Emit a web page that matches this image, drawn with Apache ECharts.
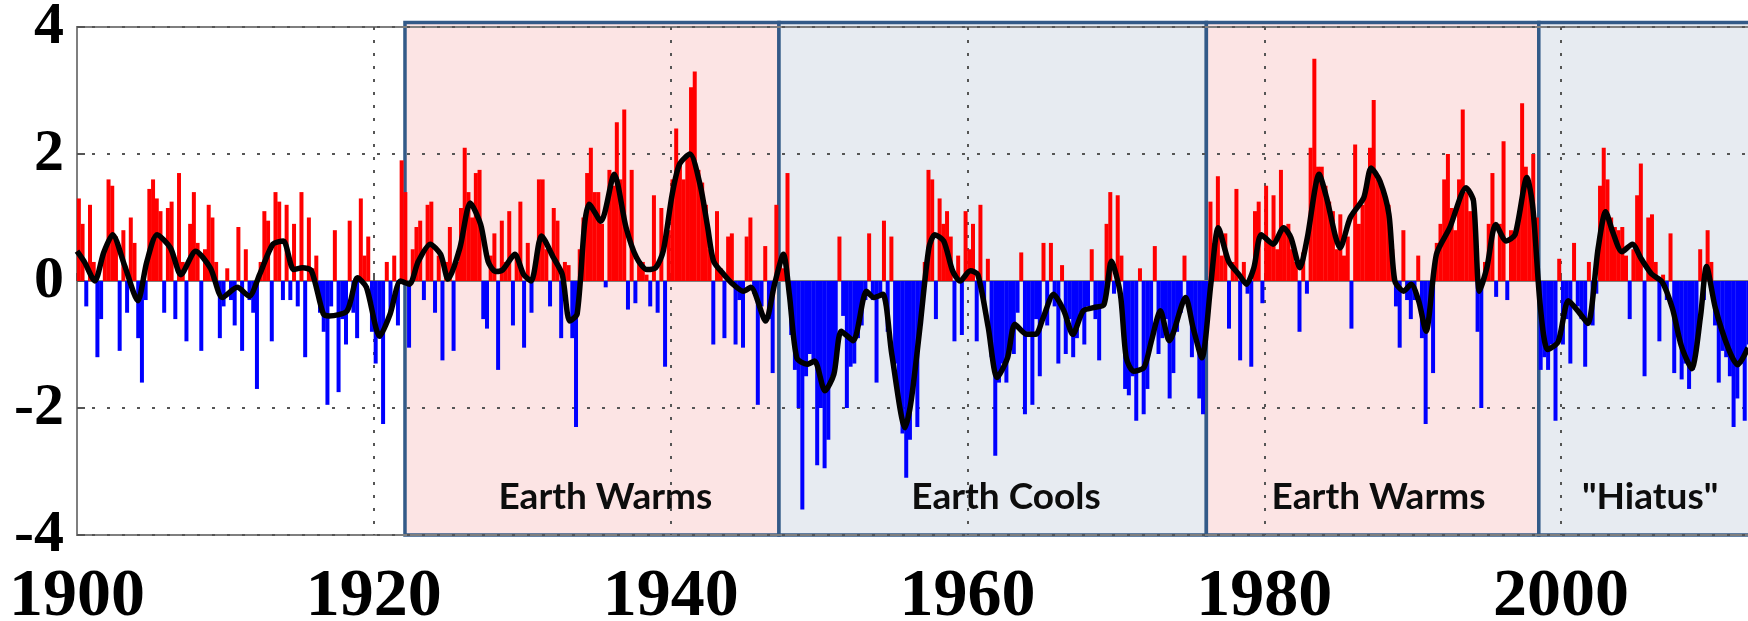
<!DOCTYPE html>
<html lang="en">
<head>
<meta charset="utf-8">
<title>PDO index 1900-2013</title>
<script src="https://cdn.jsdelivr.net/npm/echarts@6/dist/echarts.min.js"></script>
<style>
  html, body { margin: 0; padding: 0; background: #fff; }
  #chart { width: 1748px; height: 621px; }
</style>
</head>
<body>
<div id="chart"></div>
<script>
// quarterly index values, 4 per year, starting 1900
var firstYear = 1900;
var quarterly = [
  1.3, 0.9, -0.4, 1.2,      // 1900
  0.3, -1.2, -0.6, 0.5,
  1.6, 1.5, 0.7, -1.1,
  0.8, -0.5, 1.0, 0.6,
  -0.9, -1.6, -0.3, 1.45,
  1.6, 1.3, 1.1, -0.5,      // 1905
  1.15, 1.25, -0.6, 1.7,
  0.3, -0.95, 0.9, 1.4,
  0.6, -1.1, 0.5, 1.2,
  1.0, 0.3, -0.9, -0.4,
  0.2, -0.3, -0.7, 0.85,    // 1910
  -1.1, 0.5, -0.3, -0.5,
  -1.7, 0.3, 1.1, 0.95,
  -0.95, 1.4, 1.25, -0.3,
  1.2, -0.3, 0.9, -0.4,
  1.4, -1.2, 1.0, 0.2,      // 1915
  0.4, -0.5, -0.8, -1.95,
  -0.4, 0.8, -1.75, -0.6,
  -1.0, 0.95, -0.5, -0.9,
  1.3, 0.4, 0.7, -0.8,
  -1.3, -0.9, -2.25, 0.3,   // 1920
  -0.5, 0.4, -0.7, 1.9,
  1.4, -1.05, 0.5, 0.85,
  0.95, -0.3, 1.2, 1.25,
  -0.5, 0.4, -1.25, 0.3,
  0.85, -1.1, 0.3, 1.15,    // 1925
  2.1, 1.4, 1.0, 1.7,
  1.75, -0.6, -0.75, 0.4,
  0.75, -1.4, 0.95, 0.3,
  1.1, -0.7, 0.4, 1.25,
  -1.05, 0.6, -0.5, 0.3,    // 1930
  1.6, 1.6, 0.5, -0.4,
  1.15, 0.95, -0.9, 0.3,
  0.25, -0.9, -2.3, 0.5,
  1.0, 1.7, 2.1, 1.4,
  1.4, 0.9, -0.1, 1.75,     // 1935
  1.5, 2.5, 1.6, 2.7,
  -0.45, 1.75, -0.35, 0.3,
  0.3, 0.1, -0.4, 1.35,
  -0.5, 1.15, -1.35, 0.8,
  1.6, 2.4, 1.85, 1.6,      // 1940
  2.0, 3.05, 3.3, 1.75,
  1.55, 1.2, 0.5, -1.0,
  1.1, 0.2, -0.9, 0.7,
  0.75, -1.0, -0.3, -1.05,
  0.7, 1.0, -0.2, -1.95,    // 1945
  -0.4, 0.55, -0.6, -1.45,
  1.2, 0.3, 0.2, 1.7,
  -0.85, -1.4, -2.0, -3.6,
  -1.5, -1.15, -1.3, -2.9,
  -2.0, -2.95, -2.5, -1.5,  // 1950
  -1.2, 0.7, -0.55, -2.0,
  -1.35, -1.3, -0.9, -0.7,
  -0.3, 0.75, -0.3, -1.6,
  -0.25, 0.95, -0.8, 0.7,
  -1.3, -1.9, -2.4, -3.1,   // 1955
  -2.5, -1.5, -2.3, -0.7,
  0.3, 1.75, 1.6, -0.6,
  1.3, 0.9, 1.1, 0.7,
  -0.95, 0.4, -0.85, 1.1,
  0.5, 0.9, -0.95, 1.2,     // 1960
  -0.4, 0.35, -1.2, -2.75,
  -1.6, -1.3, -1.6, -1.0,
  -1.15, -0.5, 0.45, -2.1,
  -0.8, -1.95, -0.6, -1.5,
  0.6, -0.7, 0.6, -0.4,     // 1965
  -1.3, 0.25, -1.15, -0.6,
  -1.2, -0.9, -0.5, -1.0,
  -0.4, 0.5, -0.6, -1.25,
  -0.4, 0.9, 1.4, -0.2,
  1.35, 0.4, -1.7, -1.8,    // 1970
  -1.5, -2.2, 0.2, -2.1,
  -1.7, -1.0, 0.55, -1.15,
  -0.9, -0.6, -1.85, -1.45,
  -0.8, -0.5, 0.4, -0.3,
  -1.2, -0.9, -1.85, -2.1,  // 1975
  -0.7, 1.25, 0.6, 1.65,
  0.4, 0.75, -0.75, 0.3,
  1.45, -1.25, 0.3, -0.2,
  -1.35, 1.1, 1.25, -0.35,
  1.5, 0.6, 1.35, 0.5,      // 1980
  1.75, 0.8, 0.9, 0.5,
  0.3, -0.8, 0.45, -0.2,
  2.1, 3.5, 1.8, 1.8,
  1.5, 1.25, 1.1, 0.5,
  1.05, 0.4, 0.7, -0.75,    // 1985
  2.15, 0.9, 1.2, 1.4,
  2.1, 2.85, 1.6, 1.5,
  1.3, 1.2, 0.5, -0.4,
  -1.05, 0.8, -0.3, -0.6,
  -0.3, 0.4, -0.9, -2.25,   // 1990
  -0.5, -1.45, 0.6, 0.9,
  1.6, 2.0, 1.15, 0.8,
  1.6, 2.7, 1.4, 1.1,
  1.3, -0.8, -2.0, 0.3,
  0.9, 1.7, -0.25, 0.9,     // 1995
  2.2, -0.3, 0.8, 0.7,
  0.9, 2.8, 1.8, 1.5,
  2.0, 1.0, -1.4, -1.2,
  -1.4, -1.0, -2.2, 0.35,
  -1.0, -0.6, -1.3, 0.6,    // 2000
  -0.4, -0.6, -1.35, 0.3,
  -0.7, -0.2, 1.5, 2.1,
  1.6, 1.0, 0.85, 0.8,
  0.85, 0.4, -0.6, 0.5,
  1.35, 1.85, -1.5, 1.0,    // 2005
  1.05, 0.3, -0.95, 0.1,
  -0.3, 0.75, -1.45, -0.8,
  -1.55, -1.3, -1.7, -1.4,
  -1.0, 0.5, -0.3, 0.8,
  0.3, -0.7, -1.6, -1.1,    // 2010
  -1.2, -1.5, -2.3, -1.85,
  -1.3, -2.2, -1.0, -1.3
];

// smoothed curve (black line)
var smoothYears = [
  1900.0, 1900.5, 1901.2, 1901.8, 1902.4, 1903.2, 1904.1, 1904.7, 1905.4, 1906.3,
  1907.0, 1908.0, 1909.0, 1909.8, 1910.8, 1911.6, 1912.3, 1913.2, 1913.9, 1914.6,
  1915.2, 1915.8, 1916.6, 1917.0, 1918.2, 1918.9, 1919.5, 1920.4, 1921.1, 1921.8,
  1922.4, 1923.0, 1923.8, 1924.5, 1925.0, 1925.8, 1926.5, 1927.2, 1927.7, 1928.2,
  1928.7, 1929.5, 1930.1, 1930.6, 1931.3, 1932.1, 1932.7, 1933.2, 1933.7, 1934.2,
  1934.5, 1935.3, 1936.2, 1937.0, 1937.7, 1938.4, 1939.0, 1939.5, 1940.1, 1940.6,
  1941.3, 1942.0, 1942.5, 1942.9, 1943.6, 1944.2, 1944.9, 1945.4, 1946.4, 1947.0,
  1947.6, 1948.0, 1948.5, 1949.2, 1949.7, 1950.4, 1951.0, 1951.5, 1952.3, 1953.2,
  1953.7, 1954.3, 1954.9, 1955.8, 1956.2, 1956.8, 1957.4, 1957.8, 1958.4, 1959.0,
  1959.5, 1960.2, 1960.7, 1961.4, 1962.0, 1962.7, 1963.2, 1964.0, 1964.6, 1965.1,
  1965.8, 1966.5, 1967.1, 1967.8, 1968.5, 1969.2, 1969.7, 1970.3, 1970.7, 1971.2,
  1971.9, 1972.4, 1973.0, 1973.6, 1974.7, 1975.2, 1975.8, 1976.4, 1976.9, 1977.6,
  1978.3, 1978.8, 1979.3, 1979.8, 1980.6, 1981.3, 1981.8, 1982.4, 1982.9, 1983.7,
  1984.2, 1984.8, 1985.1, 1985.8, 1986.7, 1987.2, 1987.8, 1988.4, 1988.8, 1989.4,
  1989.9, 1990.4, 1990.9, 1991.6, 1992.5, 1993.6, 1994.1, 1994.5, 1995.0, 1995.6,
  1996.3, 1996.9, 1997.7, 1998.1, 1998.6, 1999.1, 1999.8, 2000.5, 2001.2, 2001.8,
  2002.5, 2003.0, 2003.5, 2004.1, 2004.8, 2005.4, 2006.1, 2006.8, 2007.5, 2008.1,
  2008.8, 2009.4, 2009.8, 2010.4, 2011.3, 2011.9, 2012.6
];
var smoothValues = [
  0.47, 0.3, 0.0, 0.45, 0.73, 0.25, -0.31, 0.3, 0.73, 0.52,
  0.1, 0.47, 0.2, -0.26, -0.1, -0.24, 0.1, 0.58, 0.63, 0.18,
  0.21, 0.16, -0.52, -0.55, -0.47, 0.05, -0.1, -0.87, -0.52, 0.0,
  -0.05, 0.31, 0.58, 0.42, 0.03, 0.52, 1.23, 0.89, 0.31, 0.15,
  0.18, 0.42, 0.1, 0.0, 0.71, 0.37, 0.1, -0.63, -0.52, 0.89,
  1.21, 0.94, 1.68, 0.84, 0.37, 0.18, 0.21, 0.47, 1.36, 1.84,
  2.0, 1.5, 0.84, 0.31, 0.1, -0.05, -0.16, -0.1, -0.63, -0.05,
  0.42, -0.21, -1.21, -1.31, -1.26, -1.73, -1.47, -0.79, -0.94, -0.16,
  -0.26, -0.21, -1.15, -2.31, -1.9, -0.73, 0.52, 0.73, 0.63, 0.16,
  0.0, 0.16, 0.1, -0.73, -1.52, -1.21, -0.68, -0.84, -0.84, -0.58,
  -0.21, -0.47, -0.84, -0.47, -0.42, -0.37, 0.31, -0.2, -1.21, -1.42,
  -1.36, -0.94, -0.47, -0.94, -0.26, -0.73, -1.21, -0.05, 0.84, 0.31,
  0.1, -0.05, 0.21, 0.73, 0.58, 0.84, 0.68, 0.21, 0.68, 1.68,
  1.31, 0.7, 0.52, 1.0, 1.31, 1.78, 1.57, 1.05, 0.0, -0.16,
  -0.05, -0.31, -0.79, 0.42, 0.84, 1.47, 1.26, -0.16, 0.21, 0.89,
  0.63, 0.73, 1.63, 1.15, -0.4, -1.08, -0.96, -0.31, -0.49, -0.67,
  0.52, 1.09, 0.76, 0.46, 0.58, 0.35, 0.11, -0.01, -0.43, -1.02,
  -1.38, -0.55, 0.23, -0.43, -1.08, -1.32, -1.05
];

// shaded periods
var periodStart = [1922.1, 1947.3, 1976.1, 1998.5];
var periodEnd   = [1947.3, 1976.1, 1998.5, 2014.5];
var periodKind  = ['warm', 'cool', 'warm', 'cool'];
var periodName  = ['Earth Warms', 'Earth Cools', 'Earth Warms', '"Hiatus"'];
var periodLabelYear = [1935.6, 1962.6, 1987.7, 2006.0];

var kindFill = { warm: '#fce4e4', cool: '#e7ebf1' };

var barData = quarterly.map(function (v, i) {
  return [firstYear + (i + 0.5) / 4, v];
});
var lineData = smoothYears.map(function (y, i) { return [y, smoothValues[i]]; });
var periodData = periodStart.map(function (s, i) { return [s, periodEnd[i], i]; });

var chart = echarts.init(document.getElementById('chart'));
var serifFont = "'Liberation Serif', 'Times New Roman', serif";

chart.setOption({
  animation: false,
  backgroundColor: '#fff',
  grid: {
    left: 77, top: 27, right: -6, bottom: 86,
    outerBoundsMode: 'none',
    show: true, borderColor: '#7f7f7f', borderWidth: 2
  },
  xAxis: {
    type: 'value', min: 1900, max: 2013, interval: 20,
    axisLine: { show: true, lineStyle: { color: '#7f7f7f', width: 2 } },
    axisTick: { show: true, inside: true, length: 8, lineStyle: { color: '#555', width: 2 } },
    axisLabel: {
      showMaxLabel: false, margin: 28, color: '#000',
      fontFamily: serifFont, fontWeight: 'bold', fontSize: 68,
      formatter: function (v) { return String(v); }
    },
    splitLine: { show: true, lineStyle: { color: '#555', width: 2, type: [3, 10] } }
  },
  yAxis: {
    type: 'value', min: -4, max: 4, interval: 2,
    axisLine: { show: true, lineStyle: { color: '#7f7f7f', width: 2 } },
    axisTick: { show: true, inside: true, length: 8, lineStyle: { color: '#555', width: 2 } },
    axisLabel: {
      margin: 13, color: '#000',
      fontFamily: serifFont, fontWeight: 'bold', fontSize: 60
    },
    splitLine: { show: true, lineStyle: { color: '#555', width: 2, type: [3, 12] } }
  },
  series: [
    {
      type: 'custom',
      z: -1,
      data: periodData,
      encode: { x: [0, 1] },
      renderItem: function (params, api) {
        var i = api.value(2);
        var p0 = api.coord([api.value(0), 4.07]);
        var p1 = api.coord([api.value(1), -4.0]);
        var t = api.coord([periodLabelYear[i], -3.4]);
        return {
          type: 'group',
          children: [
            {
              type: 'rect',
              shape: { x: p0[0], y: p0[1], width: p1[0] - p0[0], height: p1[1] - p0[1] },
              style: { fill: kindFill[periodKind[i]], stroke: '#335a88', lineWidth: 3.5 }
            },
            {
              type: 'text',
              style: {
                text: periodName[i], x: t[0], y: t[1],
                align: 'center', verticalAlign: 'middle',
                fill: '#0d0d0d', font: "bold 37px Lato, 'Open Sans', sans-serif"
              }
            }
          ]
        };
      }
    },
    {
      type: 'bar',
      data: barData,
      barWidth: 4,
      itemStyle: {
        color: function (p) { return p.value[1] >= 0 ? '#ff0000' : '#0000ff'; }
      },
      z: 2
    },
    {
      type: 'line',
      data: lineData,
      showSymbol: false,
      smooth: 0.25,
      lineStyle: { color: '#000', width: 5.5 },
      z: 3
    }
  ]
});
</script>
</body>
</html>
